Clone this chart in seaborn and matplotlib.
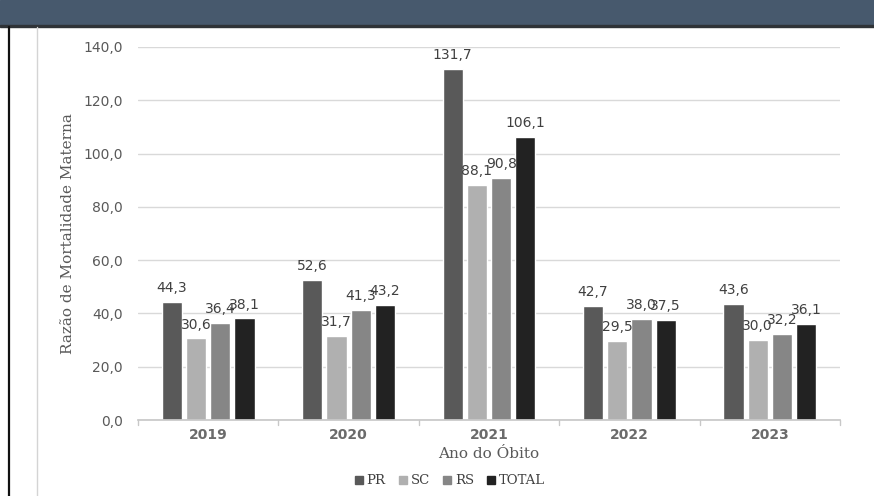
import matplotlib
matplotlib.use("Agg")
import matplotlib.pyplot as plt
import matplotlib.patches as mpatches
import seaborn as sns
import pandas as pd

years = ["2019", "2020", "2021", "2022", "2023"]
states = ["PR", "SC", "RS", "TOTAL"]
pr = [44.3, 52.6, 131.7, 42.7, 43.6]
sc = [30.6, 31.7, 88.1, 29.5, 30.0]
rs = [36.4, 41.3, 90.8, 38.0, 32.2]
total = [38.1, 43.2, 106.1, 37.5, 36.1]
yticks = [0, 20, 40, 60, 80, 100, 120, 140]
ylabel = "Razão de Mortalidade Materna"
xlabel = "Ano do Óbito"

colors = ["#595959", "#b0b0b0", "#868686", "#222222"]

rows = []
for s, vals in zip(states, [pr, sc, rs, total]):
    for y, v in zip(years, vals):
        rows.append({"Ano": y, "UF": s, "RMM": v})
df = pd.DataFrame(rows)

sns.set_theme(style="white")
plt.rcParams["font.family"] = ["DejaVu Sans"]

fig = plt.figure(figsize=(8.74, 4.96), dpi=100)
fig.patch.set_facecolor("white")

# header band
fig.patches.append(mpatches.Rectangle((0, 1 - 24.5 / 496), 1, 24.5 / 496,
                                      transform=fig.transFigure, color="#47596d", zorder=0))
fig.patches.append(mpatches.Rectangle((0, 1 - 27 / 496), 1, 2.5 / 496,
                                      transform=fig.transFigure, color="#2f3337", zorder=0))
# outer left border & chart area border
fig.add_artist(plt.Line2D([9 / 874, 9 / 874], [0, 1 - 27 / 496], transform=fig.transFigure,
                          color="#111111", lw=1.6))
fig.add_artist(plt.Line2D([36.5 / 874, 36.5 / 874], [0, 1 - 27 / 496], transform=fig.transFigure,
                          color="#d4d4d4", lw=1.0))

ax = fig.add_axes([138 / 874, 1 - 420 / 496, 702 / 874, 373 / 496])
sns.barplot(data=df, x="Ano", y="RMM", hue="UF", hue_order=states, order=years,
            palette=colors, width=0.69, gap=0.17, saturation=1, ax=ax, legend=False,
            errorbar=None)

ax.set_ylim(0, 140)
ax.set_xlim(-0.5, 4.5)
ax.set_yticks(yticks)
ax.set_yticklabels([f"{t:.1f}".replace(".", ",") for t in yticks], color="#595959", fontsize=10)
ax.yaxis.grid(True, color="#d9d9d9", lw=1)
ax.set_axisbelow(True)
for sp in ["top", "right", "left"]:
    ax.spines[sp].set_visible(False)
ax.spines["bottom"].set_color("#c8c8c8")
ax.tick_params(axis="y", length=0, pad=11)
ax.set_xticks(range(len(years)))
ax.set_xticklabels(years, color="#6b6b6b", fontsize=10, fontweight="bold")
ax.tick_params(axis="x", length=0, pad=6)
for b in [-0.5, 0.5, 1.5, 2.5, 3.5, 4.5]:
    ax.plot([b, b], [0, -2], color="#c8c8c8", lw=1, clip_on=False)

for cont in ax.containers:
    labels = [f"{r.get_height():.1f}".replace(".", ",") for r in cont]
    ax.bar_label(cont, labels=labels, padding=5, fontsize=10, color="#404040")

ax.set_xlabel(xlabel, family="DejaVu Serif", fontsize=11, color="#595959", labelpad=3)
ax.set_ylabel(ylabel, family="DejaVu Serif", fontsize=11, color="#595959", labelpad=6)

handles = [mpatches.Patch(color=c, label=s) for s, c in zip(states, colors)]
fig.legend(handles=handles, loc="center", bbox_to_anchor=(450 / 874, 1 - 481 / 496), ncol=4,
           frameon=False, handlelength=0.6, handleheight=0.6, handletextpad=0.3,
           columnspacing=1.0, prop={"family": "DejaVu Serif", "size": 9.5},
           labelcolor="#404040")

fig.savefig("out.png", dpi=100, facecolor="white")
